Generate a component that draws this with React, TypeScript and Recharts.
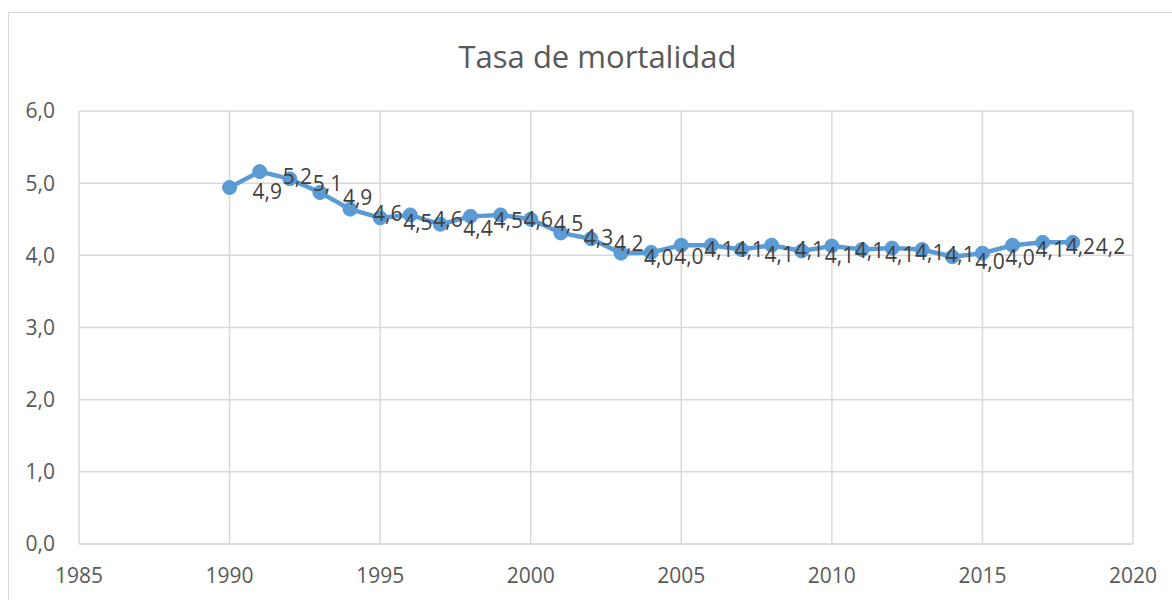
import React from "react";
import { LineChart, Line, XAxis, YAxis, CartesianGrid, LabelList } from "recharts";

const years = [1990, 1991, 1992, 1993, 1994, 1995, 1996, 1997, 1998, 1999, 2000, 2001, 2002, 2003, 2004, 2005, 2006, 2007, 2008, 2009, 2010, 2011, 2012, 2013, 2014, 2015, 2016, 2017, 2018];
const rates = [4.94, 5.16, 5.06, 4.87, 4.64, 4.52, 4.56, 4.43, 4.54, 4.56, 4.5, 4.31, 4.23, 4.03, 4.04, 4.14, 4.14, 4.08, 4.14, 4.06, 4.13, 4.08, 4.1, 4.08, 3.98, 4.03, 4.14, 4.18, 4.18];
const xTicks = [1985, 1990, 1995, 2000, 2005, 2010, 2015, 2020];
const yTicks = [0, 1, 2, 3, 4, 5, 6];

const data = years.map((year, i) => ({ year, rate: rates[i] }));

const FONT = "'Open Sans', sans-serif";
const fmt = (v: number) => v.toFixed(1).replace(".", ",");

const renderLabel = (props: any) => {
  const { x, y, value } = props;
  return (
    <text
      x={Number(x) + 23}
      y={Number(y) + 4}
      fill="#404040"
      fontSize={21}
      fontFamily={FONT}
      textAnchor="start"
      dominantBaseline="central"
    >
      {fmt(Number(value))}
    </text>
  );
};

export default function App() {
  return (
    <div style={{ position: "absolute", left: 0, top: 0, width: 1172, height: 600, background: "#fff", overflow: "hidden" }}>
      <div
        style={{
          position: "absolute",
          left: 8,
          top: 12,
          width: 1200,
          height: 620,
          border: "1.5px solid #D9D9D9",
          boxSizing: "border-box",
        }}
      />
      <div
        style={{
          position: "absolute",
          left: 0,
          top: 36,
          width: 1195,
          textAlign: "center",
          fontFamily: FONT,
          fontSize: 31,
          color: "#595959",
          lineHeight: "40px",
        }}
      >
        Tasa de mortalidad
      </div>
      <div style={{ position: "absolute", left: 0, top: 0 }}>
        <LineChart width={1172} height={600} data={data} margin={{ top: 111, right: 39, bottom: 0, left: 0 }}>
          <CartesianGrid stroke="#D9D9D9" strokeWidth={1.5} />
          <XAxis
            type="number"
            dataKey="year"
            domain={[1985, 2020]}
            ticks={xTicks}
            interval={0}
            tickLine={false}
            axisLine={{ stroke: "#D9D9D9", strokeWidth: 1.5 }}
            tickSize={0}
            tickMargin={24}
            height={56}
            tick={{ fill: "#595959", fontSize: 21, fontFamily: FONT }}
            allowDataOverflow
          />
          <YAxis
            type="number"
            domain={[0, 6]}
            ticks={yTicks}
            interval={0}
            tickLine={false}
            axisLine={false}
            tickSize={0}
            tickMargin={24}
            width={79}
            tickFormatter={(v: number) => fmt(v)}
            tick={{ fill: "#595959", fontSize: 21, fontFamily: FONT }}
          />
          <Line
            type="linear"
            dataKey="rate"
            stroke="#5B9BD5"
            strokeWidth={4.5}
            dot={{ r: 7, fill: "#5B9BD5", stroke: "#5B9BD5", strokeWidth: 1 }}
            activeDot={false}
            isAnimationActive={false}
          >
            <LabelList dataKey="rate" content={renderLabel} />
          </Line>
        </LineChart>
      </div>
    </div>
  );
}
